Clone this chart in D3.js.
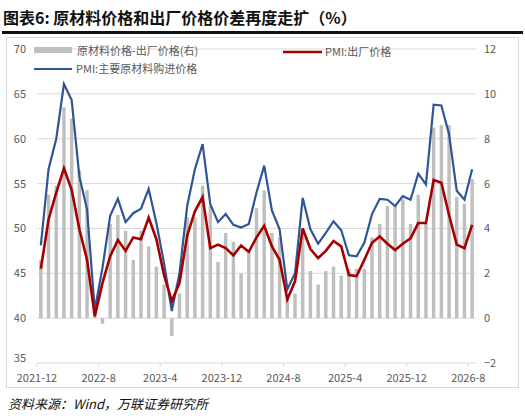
<!DOCTYPE html><html><head><meta charset="utf-8"><script src="https://cdn.jsdelivr.net/npm/d3@7"></script>
<style>body{margin:0;background:#fff}text{font-family:"Noto Sans CJK SC","Noto Sans",sans-serif}</style></head><body>
<svg id="c" width="525" height="419"></svg>
<script>
const months=[];for(let i=0;i<57;i++){const y=2021+Math.floor((11+i)/12),m=(11+i)%12+1;months.push(y+"-"+m);}
const tickLabels=["2021-12","2022-8","2023-4","2023-12","2024-8","2025-4","2025-12","2026-8"];
const spread=[2.6,5.5,5.9,9.4,8.9,6.6,5.7,0.1,-0.25,4.2,4.6,3.9,2.6,3.9,3.2,2.3,1.5,-0.8,1.1,4.5,4.5,5.9,5.0,2.5,3.8,3.4,2.0,3.0,4.9,5.7,3.8,3.6,1.0,1.1,4.0,2.1,1.5,2.1,2.3,1.9,2.2,2.2,2.2,3.6,4.2,5.0,5.0,5.3,4.2,5.5,4.2,8.5,8.6,8.6,5.4,5.1,6.2];
const pmiInput=[48.1,56.6,60.0,66.1,64.3,55.8,52.1,40.9,45.6,51.4,53.3,50.7,51.7,52.2,54.4,50.6,46.1,40.8,45.0,52.5,56.6,59.4,52.7,50.7,51.6,50.4,50.1,50.5,54.0,57.0,52.0,49.9,43.2,45.0,53.4,49.9,48.3,49.5,50.8,49.8,47.0,46.9,48.4,51.6,53.3,53.2,52.5,53.6,53.2,56.1,54.9,63.8,63.7,60.5,54.2,53.2,56.6];
const pmiOutput=[45.5,51.0,54.0,56.7,54.3,49.9,46.5,40.2,43.9,46.9,48.7,47.5,49.0,48.8,51.2,48.8,44.8,41.9,43.9,49.2,51.9,53.5,47.8,48.2,47.8,47.0,48.1,47.4,49.0,50.3,48.0,46.5,42.1,44.1,50.0,47.7,46.7,47.5,48.6,48.0,44.8,44.7,46.5,48.4,49.1,48.3,47.6,48.3,48.9,50.6,50.6,55.4,55.1,51.5,48.2,47.8,50.4];
const svg=d3.select("#c");
svg.append("text").attr("x",3).attr("y",24).attr("font-size",16).attr("font-weight","bold").attr("fill","#111").text("图表6:  原材料价格和出厂价格价差再度走扩（%）");
svg.append("rect").attr("x",2).attr("y",31).attr("width",521).attr("height",3).attr("fill","#111");
svg.append("rect").attr("x",6.5).attr("y",37.5).attr("width",512).attr("height",350).attr("fill","none").attr("stroke","#d9d9d9");
const L=37,R=476,T=49,B=363;
const x=d3.scaleBand().domain(months).range([L,R]).paddingInner(0.55).paddingOuter(0.275);
const xc=d=>x(d)+x.bandwidth()/2;
const yl=d3.scaleLinear().domain([35,70]).range([B,T]);
const yr=d3.scaleLinear().domain([-2,12]).range([B,T]);
const g=svg.append("g");
yl.ticks(7).forEach(t=>{if(t>35)g.append("line").attr("x1",L).attr("x2",R).attr("y1",yl(t)).attr("y2",yl(t)).attr("stroke","#d9d9d9");});
g.append("line").attr("x1",L).attr("x2",R).attr("y1",B).attr("y2",B).attr("stroke","#d9d9d9");
const ay=svg.append("g").attr("transform",`translate(${L-8},0)`).call(d3.axisLeft(yl).ticks(7).tickSize(0));
ay.select(".domain").remove();ay.selectAll("text").attr("font-size",11).attr("fill","#595959").attr("font-family","Liberation Sans,Arial");
ay.selectAll(".tick").filter(d=>d===35).select("text").attr("dy","-0.1em");
const ar=svg.append("g").attr("transform",`translate(${R+5},0)`).call(d3.axisRight(yr).ticks(7).tickSize(0));
ar.select(".domain").remove();ar.selectAll("text").attr("font-size",11).attr("fill","#595959").attr("font-family","Liberation Sans,Arial");
tickLabels.forEach(lb=>{const m=lb.split("-");const k=m[0]+"-"+(+m[1]);const px=x(k)-x.step()*x.paddingInner()/2;
 g.append("line").attr("x1",px).attr("x2",px).attr("y1",B).attr("y2",B+4).attr("stroke","#d9d9d9");
 svg.append("text").attr("x",px).attr("y",B+19).attr("text-anchor","middle").attr("font-size",11).attr("fill","#595959").attr("font-family","Liberation Sans,Arial").text(lb);});
g.selectAll(".bar").data(spread).enter().append("rect").attr("x",(d,i)=>x(months[i])).attr("width",x.bandwidth())
 .attr("y",d=>yr(Math.max(0,d))).attr("height",d=>Math.abs(yr(d)-yr(0))).attr("fill","#bfbfbf");
const line=d3.line().x((d,i)=>xc(months[i])).y(d=>yl(d));
g.append("path").attr("d",line(pmiInput)).attr("fill","none").attr("stroke","#2f5597").attr("stroke-width",2.2);
g.append("path").attr("d",line(pmiOutput)).attr("fill","none").attr("stroke","#a50000").attr("stroke-width",2.6);
const lg=svg.append("g");
lg.append("rect").attr("x",34).attr("y",47).attr("width",38).attr("height",6).attr("fill","#bfbfbf");
lg.append("text").attr("x",77).attr("y",55).attr("font-size",11).attr("fill","#595959").text("原材料价格-出厂价格(右)");
lg.append("line").attr("x1",34).attr("x2",72).attr("y1",69).attr("y2",69).attr("stroke","#2f5597").attr("stroke-width",2.2);
lg.append("text").attr("x",76).attr("y",73).attr("font-size",11).attr("fill","#595959").text("PMI:主要原材料购进价格");
lg.append("line").attr("x1",283).attr("x2",322).attr("y1",52).attr("y2",52).attr("stroke","#a50000").attr("stroke-width",2.6);
lg.append("text").attr("x",325).attr("y",56).attr("font-size",11).attr("fill","#595959").text("PMI:出厂价格");
svg.append("text").attr("x",8).attr("y",409).attr("font-size",13).attr("font-style","italic").attr("fill","#111").text("资料来源：Wind，万联证券研究所");
</script></body></html>
